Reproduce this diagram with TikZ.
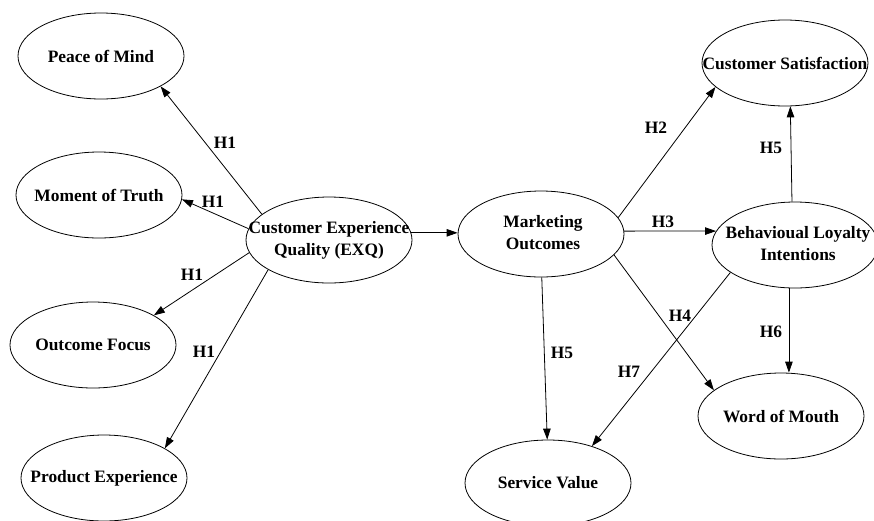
\documentclass[tikz,border=0pt]{standalone}
\usepackage{fontspec}
\setmainfont{Liberation Serif}
\usetikzlibrary{shapes.geometric,arrows.meta}
% single-line and two-line captions that do not widen the ellipse
\newcommand\lblone[1]{\makebox[0pt]{#1}}
\newcommand\lbltwo[3][0pt]{\makebox[0pt]{\hspace{#1}\begin{tabular}{@{}c@{}}#2\\#3\end{tabular}}}
\begin{document}
\begin{tikzpicture}[x=1pt,y=-1pt,
  construct/.style={draw, ellipse, minimum width=166pt, minimum height=86pt,
    inner sep=0pt, line width=0.8pt, font=\fontsize{17.4}{21.5}\selectfont\bfseries},
  link/.style={line width=0.8pt, -{Triangle[length=11pt,width=7.5pt]}},
  hyp/.style={font=\fontsize{17.4}{21.5}\selectfont\bfseries, inner sep=0pt}]
\useasboundingbox (0,0) rectangle (874,520);

% constructs
\node[construct] (pom) at (101,56)  {\lblone{Peace of Mind}};
\node[construct] (mot) at (99,195)  {\lblone{Moment of Truth}};
\node[construct] (of)  at (93,345)  {\lblone{Outcome Focus}};
\node[construct] (pe)  at (104,478) {\lblone{Product Experience}};
\node[construct] (ceq) at (329,240) {\lbltwo{Customer Experience}{Quality (EXQ)}};
\node[construct] (mo)  at (541,234) {\lbltwo[4pt]{Marketing}{Outcomes}};
\node[construct] (cs)  at (785,63)  {\lblone{Customer Satisfaction}};
\node[construct] (bli) at (795,245) {\lbltwo[6pt]{Behavioual Loyalty}{Intentions}};
\node[construct] (wom) at (781,416) {\lblone{Word of Mouth}};
\node[construct] (sv)  at (548,483) {\lblone{Service Value}};

% hypothesised paths
\draw[link] (ceq.159) -- (pom.-27);
\draw[link] (ceq.172) -- (mot.-3);
\draw[link] (ceq.189) -- (of.26);
\draw[link] (ceq.206) -- (pe.26);
\draw[link] (ceq.5) -- (ceq.5 -| mo.west);
\draw[link] (mo.12.5) -- (cs.199);
\draw[link] (mo.2) -- (bli.170);
\draw[link] (bli.94) -- (cs.-83);
\draw[link] (mo.-89) -- (sv.91);
\draw[link] (mo.-16) -- (wom.159);
\draw[link] (bli.203) -- (sv.40);
\draw[link] (bli.262) -- (bli.262 |- wom.north);

% path labels
\node[hyp] (h1a) at (225,143) {H1};
\node[hyp] (h1b) at (213,202) {H1};
\node[hyp] (h1c) at (192,275) {H1};
\node[hyp] (h1d) at (204,352) {H1};
\node[hyp] (h2)  at (656,128) {H2};
\node[hyp] (h3)  at (663,222) {H3};
\node[hyp] (h5a) at (771,148) {H5};
\node[hyp] (h5b) at (562,353) {H5};
\node[hyp] (h4)  at (680,316) {H4};
\node[hyp] (h7)  at (629,372) {H7};
\node[hyp] (h6)  at (771,332) {H6};
\end{tikzpicture}
\end{document}
